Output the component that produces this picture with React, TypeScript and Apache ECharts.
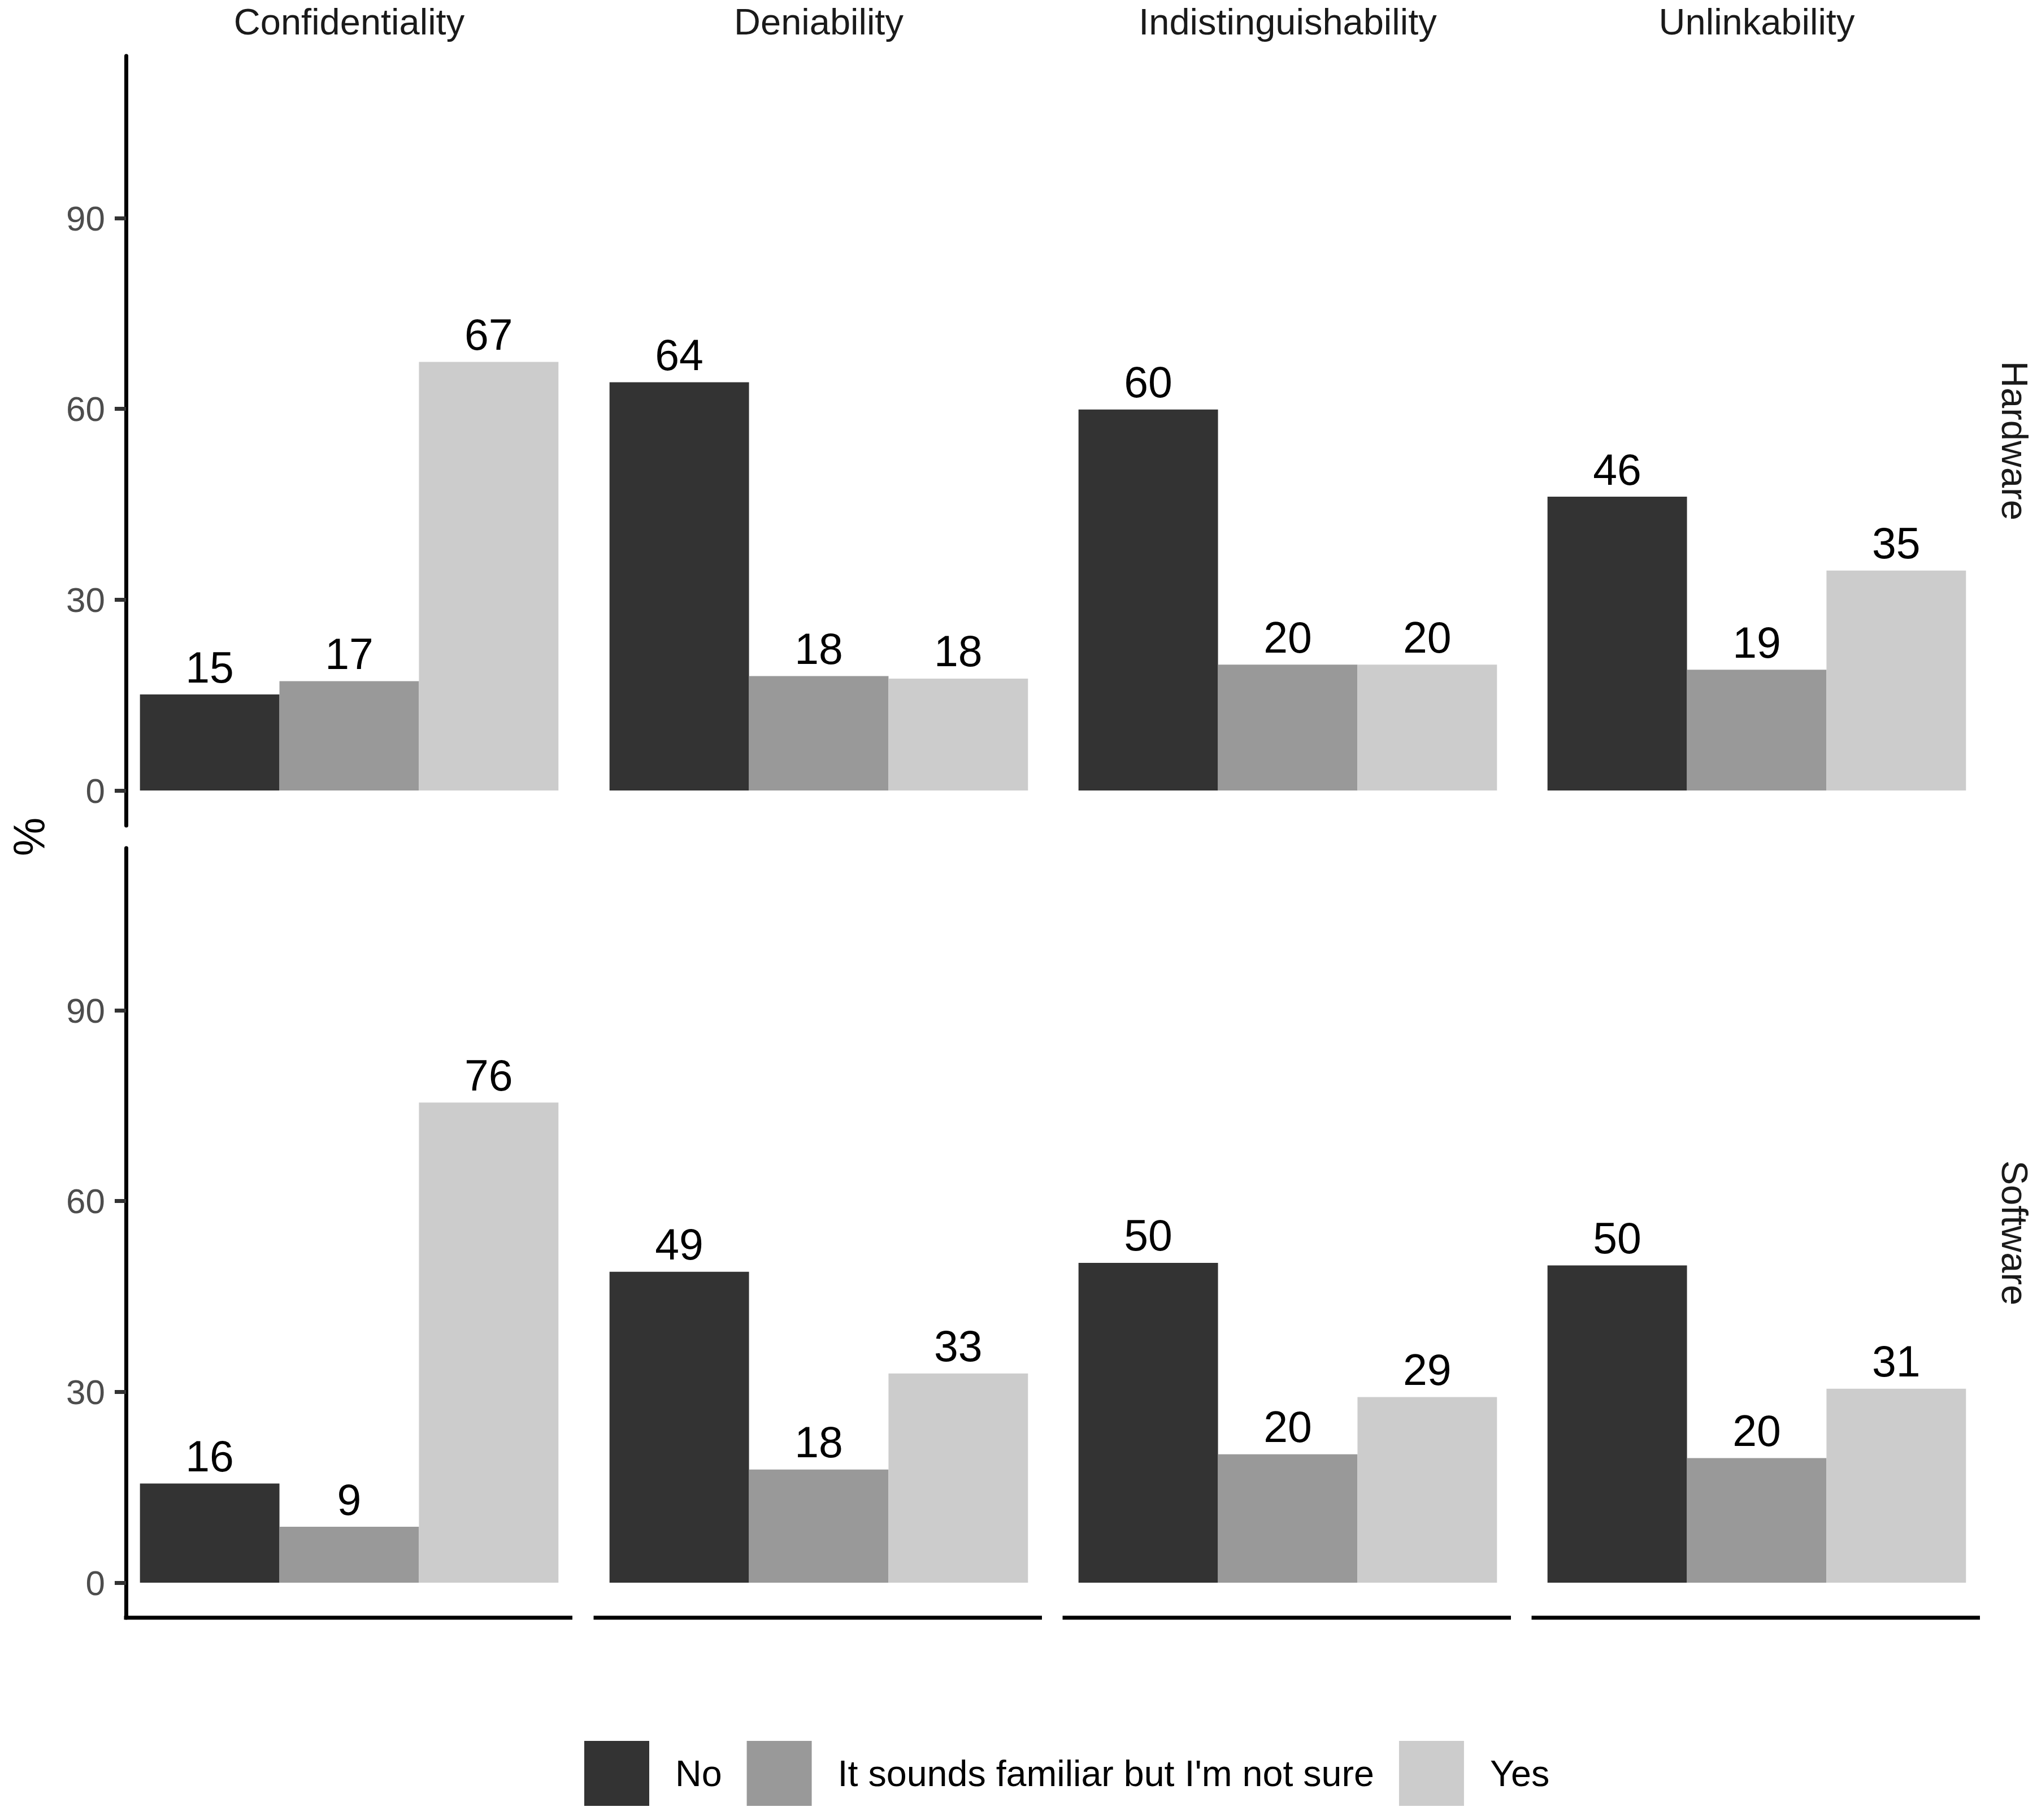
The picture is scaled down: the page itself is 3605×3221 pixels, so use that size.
import React, { useEffect, useRef } from "react";
import * as echarts from "echarts";

// ---------- data ----------
const facetColumns = ["Confidentiality", "Deniability", "Indistinguishability", "Unlinkability"];
const facetRows = ["Hardware", "Software"];
const responses = ["No", "It sounds familiar but I'm not sure", "Yes"];
const responseColors = ["#333333", "#999999", "#cccccc"];

const hardwareNo = [15.1, 64.2, 59.9, 46.2];
const hardwareFamiliar = [17.2, 18.0, 19.8, 19.0];
const hardwareYes = [67.4, 17.6, 19.8, 34.6];

const softwareNo = [15.6, 48.9, 50.3, 49.9];
const softwareFamiliar = [8.8, 17.8, 20.2, 19.6];
const softwareYes = [75.5, 32.9, 29.2, 30.5];

const yTicks = [0, 30, 60, 90];
const yMin = -5.5;
const yMax = 115.5;

// ---------- layout ----------
const W = 3605;
const H = 3221;
const FONT = "Liberation Sans, Arial, Helvetica, sans-serif";
const panelLefts = [223, 1054, 1884, 2714];
const panelWidth = 790;
const panelTops = [99, 1501];
const panelHeight = 1362;
const unit = panelWidth / 3.2; // discrete expansion 0.6 each side
const barInset = unit * 0.1;

export default function App() {
  const ref = useRef<HTMLDivElement>(null);

  useEffect(() => {
    if (!ref.current) return;
    const chart = echarts.init(ref.current, null, { renderer: "svg" });

    const rowData = [
      [hardwareNo, hardwareFamiliar, hardwareYes],
      [softwareNo, softwareFamiliar, softwareYes],
    ];

    const grids: any[] = [];
    const xAxes: any[] = [];
    const yAxes: any[] = [];
    const series: any[] = [];
    const graphics: any[] = [];

    facetRows.forEach((rowName, r) => {
      facetColumns.forEach((colName, c) => {
        const idx = r * facetColumns.length + c;
        grids.push({
          left: panelLefts[c] + barInset,
          top: panelTops[r],
          width: unit * 3,
          height: panelHeight,
          containLabel: false,
        });
        xAxes.push({
          type: "category",
          gridIndex: idx,
          data: responses,
          show: false,
        });
        const isLeft = c === 0;
        yAxes.push({
          type: "value",
          gridIndex: idx,
          min: yMin,
          max: yMax,
          show: isLeft,
          offset: barInset,
          splitLine: { show: false },
          axisLine: { show: isLeft, lineStyle: { color: "#000000", width: 7 } },
          axisTick: {
            show: isLeft,
            length: 20,
            customValues: yTicks,
            lineStyle: { color: "#333333", width: 7 },
          },
          axisLabel: {
            show: isLeft,
            customValues: yTicks,
            margin: 37,
            fontSize: 62,
            color: "#4d4d4d",
            fontFamily: FONT,
          },
        });
        responses.forEach((resp, k) => {
          const data = responses.map((_, j) => (j === k ? rowData[r][k][c] : "-"));
          series.push({
            type: "bar",
            name: resp,
            xAxisIndex: idx,
            yAxisIndex: idx,
            data,
            barWidth: "100%",
            barGap: "-100%",
            itemStyle: { color: responseColors[k] },
            label: {
              show: true,
              position: "top",
              distance: 10,
              fontSize: 77,
              color: "#000000",
              fontFamily: FONT,
              formatter: (p: any) => String(Math.round(p.value)),
            },
          });
        });
      });
    });

    // column strip labels
    facetColumns.forEach((name, c) => {
      graphics.push({
        type: "text",
        x: panelLefts[c] + panelWidth / 2,
        y: 38,
        style: {
          text: name,
          fontSize: 65,
          fontFamily: FONT,
          fill: "#1a1a1a",
          textAlign: "center",
          textVerticalAlign: "middle",
        },
      });
      // x axis line under bottom row
      graphics.push({
        type: "line",
        shape: {
          x1: panelLefts[c] - 3.5,
          y1: panelTops[1] + panelHeight,
          x2: panelLefts[c] + panelWidth,
          y2: panelTops[1] + panelHeight,
        },
        style: { stroke: "#000000", lineWidth: 7 },
      });
    });

    // row strip labels
    facetRows.forEach((name, r) => {
      graphics.push({
        type: "text",
        x: 3565,
        y: panelTops[r] + panelHeight / 2,
        rotation: -Math.PI / 2,
        style: {
          text: name,
          fontSize: 65,
          fontFamily: FONT,
          fill: "#1a1a1a",
          textAlign: "center",
          textVerticalAlign: "middle",
        },
      });
    });

    // y axis title
    graphics.push({
      type: "text",
      x: 52,
      y: (panelTops[0] + panelTops[1] + panelHeight) / 2,
      rotation: Math.PI / 2,
      style: {
        text: "%",
        fontSize: 77,
        fontFamily: FONT,
        fill: "#000000",
        textAlign: "center",
        textVerticalAlign: "middle",
      },
    });

    chart.setOption({
      animation: false,
      backgroundColor: "#ffffff",
      grid: grids,
      xAxis: xAxes,
      yAxis: yAxes,
      series,
      legend: {
        data: responses,
        left: 1034,
        top: 3081,
        padding: 0,
        itemWidth: 115,
        itemHeight: 115,
        itemGap: 44,
        icon: "rect",
        selectedMode: false,
        textStyle: {
          fontSize: 64.6,
          color: "#000000",
          fontFamily: FONT,
          padding: [0, 0, 0, 41],
        },
      },
      graphic: graphics,
    });

    return () => chart.dispose();
  }, []);

  return (
    <div
      ref={ref}
      style={{ position: "absolute", left: 0, top: 0, width: W, height: H, background: "#fff" }}
    />
  );
}
